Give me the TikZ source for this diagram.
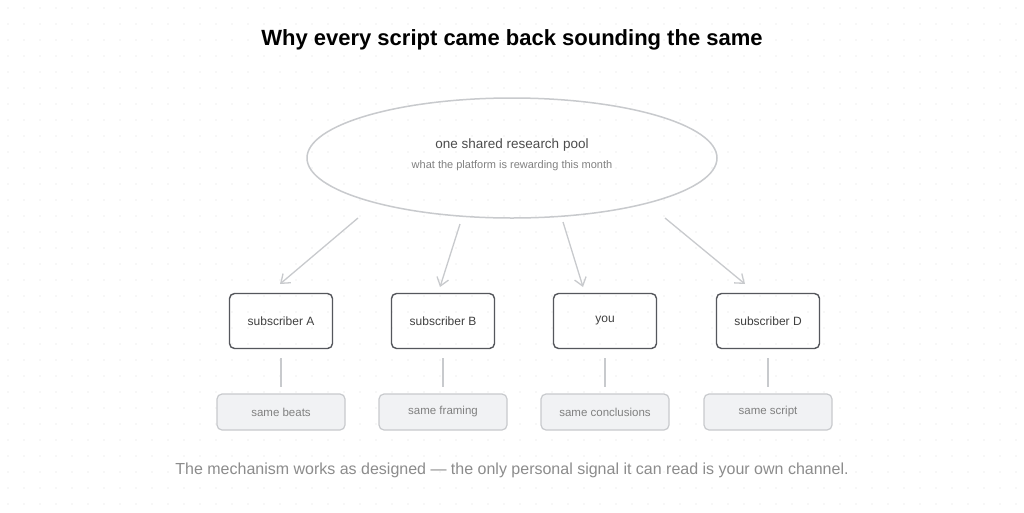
\documentclass[tikz,border=0pt]{standalone}
\usepackage{fontspec}
\setmainfont{Liberation Sans}
\usetikzlibrary{arrows.meta,shapes.geometric}
\definecolor{dotc}{HTML}{DDDDDD}
\definecolor{edge}{HTML}{C8CACD}
\definecolor{boxd}{HTML}{55575C}
\definecolor{fillg}{HTML}{F1F2F4}
\begin{document}
\begin{tikzpicture}[x=1pt,y=-1pt,
  sub/.style={draw=boxd,line width=1.4pt,rounded corners=5pt,minimum width=103pt,minimum height=55pt,font=\fontsize{12}{14}\selectfont,text=black!75},
  res/.style={draw=edge,fill=fillg,line width=1.2pt,rounded corners=5pt,minimum width=128pt,minimum height=36pt,font=\fontsize{11.5}{14}\selectfont,text=black!50},
  arr/.style={draw=edge,line width=1.3pt,-{Straight Barb[length=8pt,width=12pt]}},
  ln/.style={draw=edge,line width=1.3pt}]
\fill[white] (0,0) rectangle (1024,512);
\useasboundingbox (0,0) rectangle (1024,512);
\foreach \i in {0,...,63}{\foreach \j in {0,...,31}{\fill[dotc] (8+16*\i,8+16*\j) circle (0.7pt);}}
\node[font=\bfseries\fontsize{22}{26}\selectfont] (title) at (512,40) {Why every script came back sounding the same};
\node[draw=edge,line width=1.5pt,ellipse,inner sep=0pt,minimum width=410pt,minimum height=120pt] (pool) at (512,158) {};
\node[font=\fontsize{13.5}{16}\selectfont,text=black!70] (p1) at (512,145) {one shared research pool};
\node[font=\fontsize{11}{13}\selectfont,text=black!50] (p2) at (512,166) {what the platform is rewarding this month};
\node[sub] (a) at (281,321) {subscriber A};
\node[sub] (b) at (443,321) {subscriber B};
\node[sub] (c) at (605,321) {you};
\node[sub] (d) at (768,321) {subscriber D};
\node[res] (oa) at (281,412) {same beats};
\node[res] (ob) at (443,412) {same framing};
\node[res] (oc) at (605,412) {same conclusions};
\node[res] (od) at (768,412) {same script};
\coordinate (s1) at (358,218); \coordinate (e1) at (280,284);
\coordinate (s2) at (460,224); \coordinate (e2) at (440,287);
\coordinate (s3) at (563,222); \coordinate (e3) at (583,287);
\coordinate (s4) at (665,218); \coordinate (e4) at (745,284);
\draw[arr] (s1) -- (e1); \draw[arr] (s2) -- (e2); \draw[arr] (s3) -- (e3); \draw[arr] (s4) -- (e4);
\foreach \n in {a,b,c,d}{\draw[ln] ([yshift=-9pt]\n.south) -- ([yshift=6pt]o\n.north);}
\node[font=\fontsize{16}{19}\selectfont,text=black!45] (foot) at (512,470) {The mechanism works as designed — the only personal signal it can read is your own channel.};
\end{tikzpicture}
\end{document}
